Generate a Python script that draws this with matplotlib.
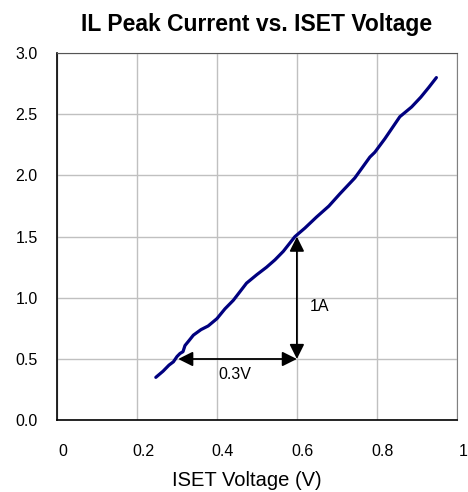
import matplotlib.pyplot as plt
import matplotlib.transforms as mtransforms

plt.rcParams['font.family'] = ['Liberation Sans', 'DejaVu Sans']

# IL peak current vs ISET voltage
iset_v = [0.247, 0.265, 0.28, 0.291, 0.30, 0.3075, 0.315, 0.32, 0.33, 0.341, 0.36, 0.378,
          0.40, 0.42, 0.441, 0.4575, 0.474, 0.50, 0.524, 0.545, 0.566, 0.595, 0.62,
          0.649, 0.68, 0.7075, 0.745, 0.7825, 0.795, 0.82, 0.8575, 0.887, 0.91, 0.93, 0.949]
il_peak = [0.35, 0.40, 0.45, 0.477, 0.52, 0.545, 0.56, 0.61, 0.65, 0.695, 0.74, 0.77,
           0.83, 0.91, 0.98, 1.05, 1.12, 1.19, 1.25, 1.31, 1.38, 1.50, 1.57,
           1.66, 1.75, 1.85, 1.98, 2.15, 2.19, 2.30, 2.48, 2.56, 2.64, 2.72, 2.80]

xticks = [0, 0.2, 0.4, 0.6, 0.8, 1.0]
xlabels = ['0', '0.2', '0.4', '0.6', '0.8', '1']
yticks = [0.0, 0.5, 1.0, 1.5, 2.0, 2.5, 3.0]

fig = plt.figure(figsize=(4.68, 4.92), dpi=100)
ax = fig.add_axes([0.122, 0.146, 0.854, 0.746])

ax.plot(iset_v, il_peak, color='#00007f', linewidth=2.3, solid_capstyle='round')

# slope markers
ax.annotate('', xy=(0.303, 0.5), xytext=(0.6, 0.5),
            arrowprops=dict(arrowstyle='<|-|>', color='black', lw=1.3, mutation_scale=22, shrinkA=0, shrinkB=0))
ax.annotate('', xy=(0.6, 1.5), xytext=(0.6, 0.5),
            arrowprops=dict(arrowstyle='<|-|>', color='black', lw=1.3, mutation_scale=22, shrinkA=0, shrinkB=0))
ax.text(0.445, 0.375, '0.3V', ha='center', va='center', fontsize=11.5)
ax.text(0.631, 0.93, '1A', ha='left', va='center', fontsize=11.5)

ax.set_xlim(0, 1)
ax.set_ylim(0, 3)
ax.set_xticks(xticks)
ax.set_xticklabels(xlabels)
ax.set_yticks(yticks)
ax.set_yticklabels(['%.1f' % t for t in yticks])
ax.tick_params(length=0, labelsize=11.5)
ax.tick_params(axis='x', pad=17)
ax.tick_params(axis='y', pad=14)
# x tick labels sit a little right of their gridlines in the original
shift = mtransforms.ScaledTranslation(0.06, 0, fig.dpi_scale_trans)
for lbl in ax.get_xticklabels():
    lbl.set_transform(lbl.get_transform() + shift)
ax.grid(True, color='#c0c0c0', linewidth=1)
ax.set_axisbelow(True)
for s in ['left', 'bottom']:
    ax.spines[s].set_color('black')
    ax.spines[s].set_linewidth(1.2)
ax.spines['top'].set_color('#555555')
ax.spines['right'].set_color('#808080')

ax.set_xlabel('ISET Voltage (V)', fontsize=14.5, labelpad=9)
ax.xaxis.label.set_x(0.475)
ax.set_title('IL Peak Current vs. ISET Voltage', fontsize=16.5, fontweight='bold', pad=16)

fig.savefig('out.png', dpi=100)
